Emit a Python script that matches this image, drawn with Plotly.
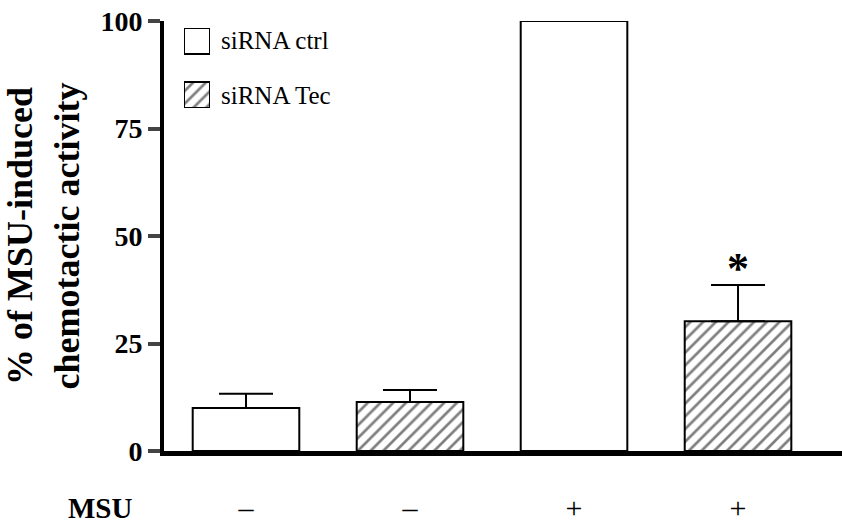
import plotly.graph_objects as go

# Groups along the x axis and the MSU treatment under each one
positions = [0, 1, 2, 3]
msu_signs = ["\u2013", "\u2013", "+", "+"]

# siRNA ctrl bars (groups 0 and 2) and siRNA Tec bars (groups 1 and 3)
ctrl_x = [0, 2]
ctrl_mean = [10.0, 100.0]
ctrl_err = [3.3, 0.0]

tec_x = [1, 3]
tec_mean = [11.4, 30.2]
tec_err = [2.8, 8.4]

y_ticks = [0, 25, 50, 75, 100]
legend_labels = ["siRNA ctrl", "siRNA Tec"]

W, H = 842, 525
L, R, T, B = 164, 0, 21, 74
PW, PH = W - L - R, H - T - B

SERIF = "Liberation Serif"
OUTLINE = dict(color="black", width=2)
HATCH = dict(shape="/", size=9, solidity=0.3, fgcolor="black", bgcolor="white")


def px_x(p):
    return (p - L) / PW


def px_y(p):
    return (H - B - p) / PH


fig = go.Figure()

fig.add_trace(go.Bar(
    x=ctrl_x, y=ctrl_mean, width=0.65,
    marker=dict(color="white", line=OUTLINE),
    error_y=dict(type="data", array=ctrl_err, symmetric=False, arrayminus=[0, 0],
                 color="black", thickness=2, width=27),
))
fig.add_trace(go.Bar(
    x=tec_x, y=tec_mean, width=0.65,
    marker=dict(color="white", line=OUTLINE, pattern=HATCH),
    error_y=dict(type="data", array=tec_err, symmetric=False, arrayminus=[0, 0],
                 color="black", thickness=2, width=27),
))

# legend keys: two small boxes on their own hidden axes in the top-left corner
key = 26
gap = 28
fig.add_trace(go.Bar(x=[0], y=[key], base=[key + gap], width=1, xaxis="x2", yaxis="y2",
                     marker=dict(color="white", line=OUTLINE), hoverinfo="skip"))
fig.add_trace(go.Bar(x=[0], y=[key], base=[0], width=1, xaxis="x2", yaxis="y2",
                     marker=dict(color="white", line=OUTLINE, pattern=HATCH), hoverinfo="skip"))

key_left, key_top = 184, 28
for i, label in enumerate(legend_labels):
    fig.add_annotation(xref="paper", yref="paper",
                       x=px_x(key_left + key + 9), y=px_y(key_top + key / 2 + i * (key + gap)),
                       text=label, showarrow=False, xanchor="left", yanchor="middle",
                       font=dict(family=SERIF, size=25, color="black"))

# significance mark above the Tec + MSU bar
fig.add_annotation(x=tec_x[1], y=tec_mean[1] + tec_err[1], text="<b>*</b>",
                   showarrow=False, yanchor="middle", yshift=17,
                   font=dict(family=SERIF, size=44, color="black"))

# MSU row label
fig.add_annotation(xref="paper", yref="paper", x=px_x(100), y=px_y(508),
                   text="<b>MSU</b>", showarrow=False, xanchor="center", yanchor="middle",
                   font=dict(family=SERIF, size=29, color="black"))

fig.update_layout(
    width=W, height=H,
    font=dict(family=SERIF, color="black"),
    margin=dict(l=L, r=R, t=T, b=B, pad=0, autoexpand=False),
    paper_bgcolor="white", plot_bgcolor="white",
    barmode="overlay",
    showlegend=False,
    xaxis=dict(range=[-0.5, 3.634], tickvals=positions, ticktext=msu_signs,
               showgrid=False, zeroline=False, showline=True, linecolor="black",
               linewidth=5, ticks="", ticklabelstandoff=26, automargin=False,
               tickfont=dict(family=SERIF, size=30, color="black")),
    yaxis=dict(range=[0, 100], tickvals=y_ticks,
               ticktext=["<b>%d</b>" % v for v in y_ticks],
               showgrid=False, zeroline=False,
               showline=True, linecolor="black", linewidth=4, automargin=False,
               ticks="outside", ticklen=12, tickwidth=4,
               tickfont=dict(family=SERIF, size=28, color="black"),
               title=dict(text="<b>% of MSU-induced<br>chemotactic activity</b>",
                          standoff=12, font=dict(family=SERIF, size=36, color="black"))),
    xaxis2=dict(domain=[px_x(key_left), px_x(key_left + key)], range=[-0.5, 0.5],
                visible=False, anchor="y2", fixedrange=True),
    yaxis2=dict(domain=[px_y(key_top + 2 * key + gap), px_y(key_top)],
                range=[0, 2 * key + gap], visible=False, anchor="x2", fixedrange=True),
)

fig.write_html("out.html")
